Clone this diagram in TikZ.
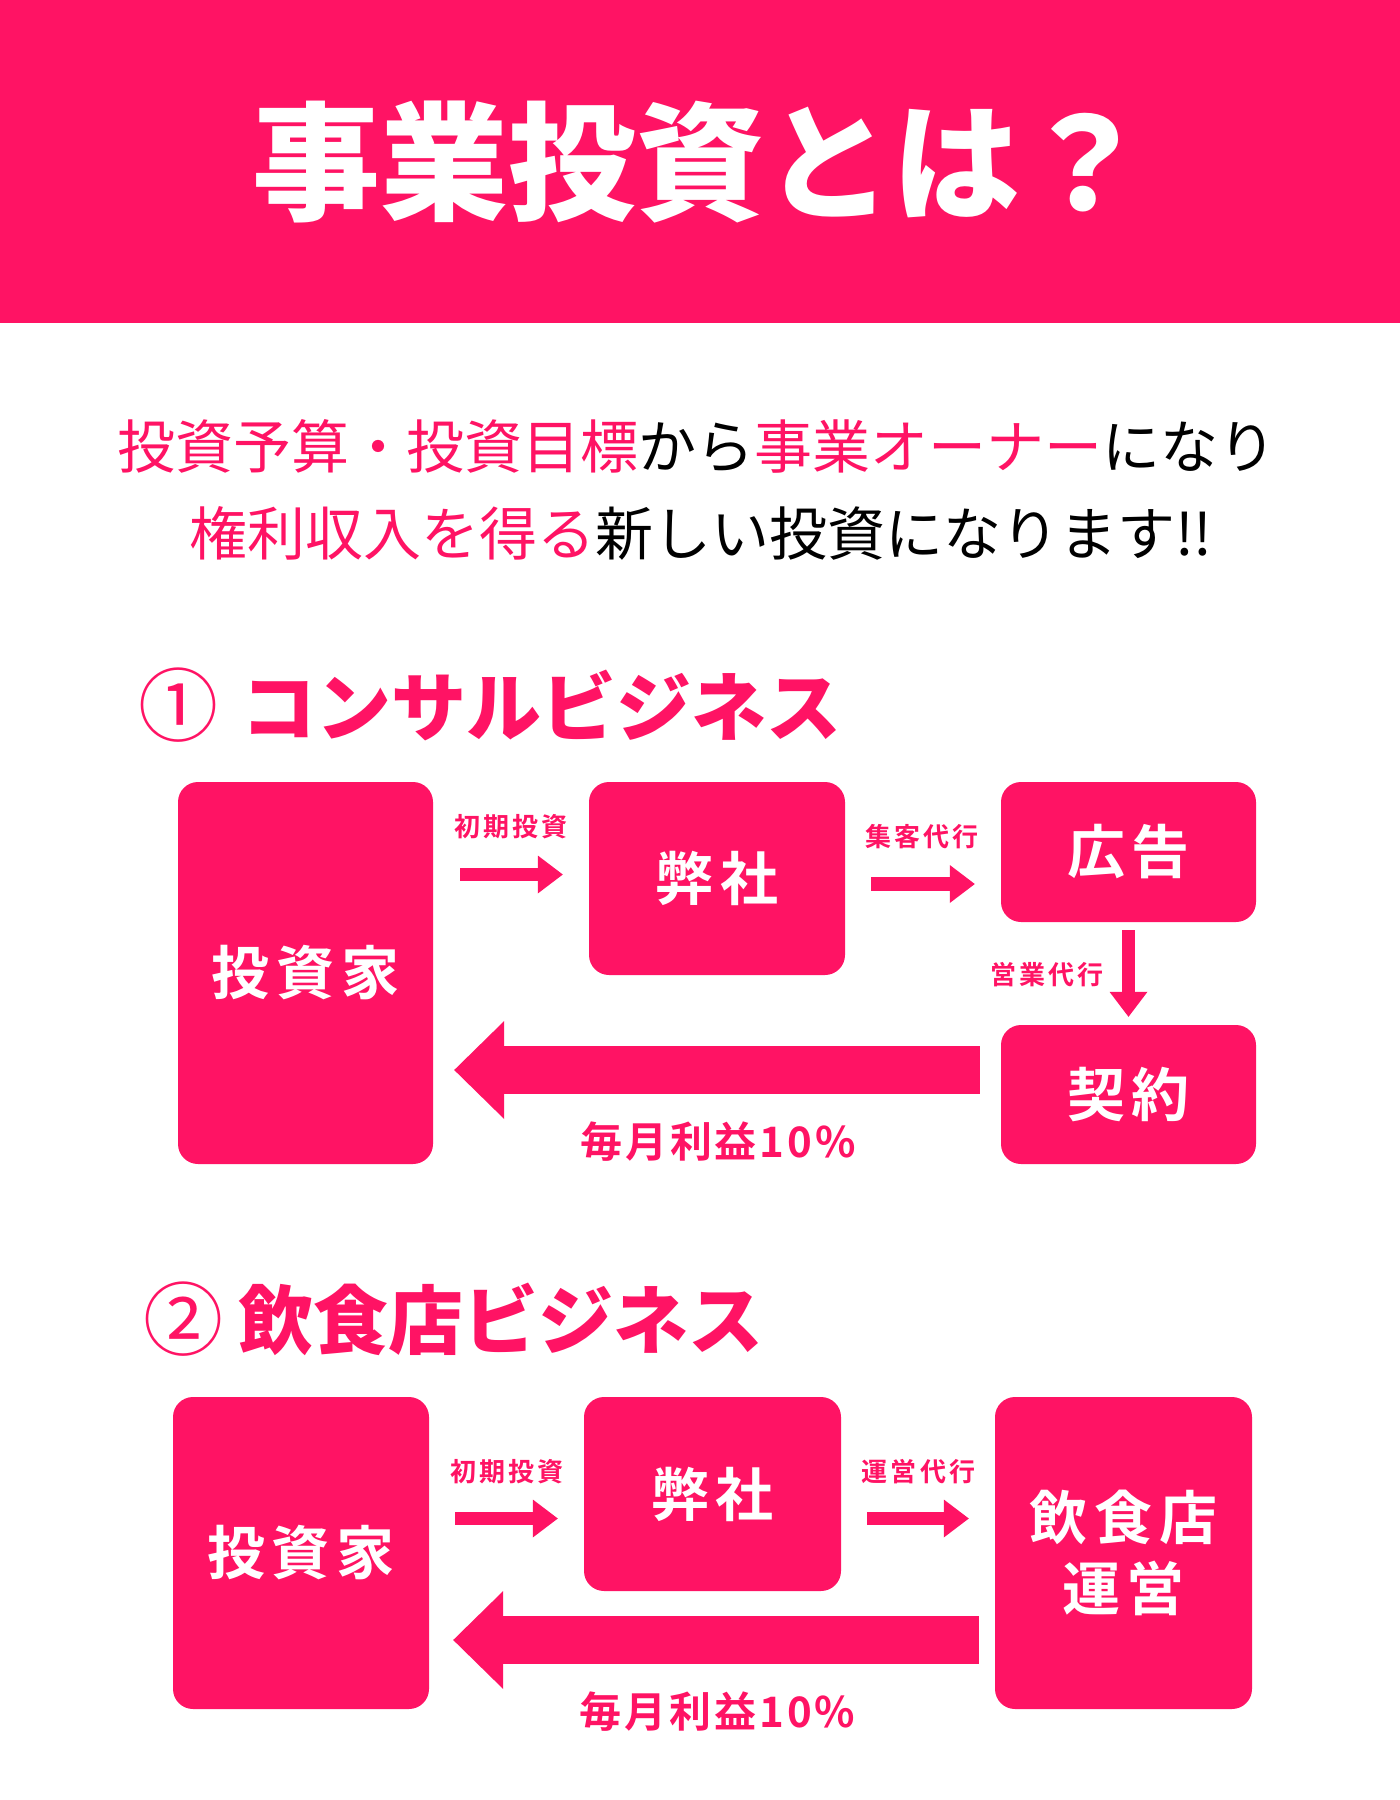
\documentclass[tikz,border=0pt]{standalone}
\usepackage{fontspec}
\usetikzlibrary{arrows.meta,calc}
\setmainfont{Noto Sans CJK JP}
\newfontfamily\jpbold{Noto Sans CJK JP Bold}
\IfFontExistsTF{Noto Sans CJK JP Black}{\newfontfamily\jpblack{Noto Sans CJK JP Black}}{\newfontfamily\jpblack{Noto Sans CJK JP Bold}}
\definecolor{hotpink}{RGB}{255,19,100}

\tikzset{
  box/.style={fill=hotpink, rounded corners=20pt, text=white, inner sep=0pt, align=center,
    font=\jpbold\fontsize{58}{71}\selectfont\addfontfeature{LetterSpace=12}},
  lead/.style={inner sep=0pt, text=black, font=\fontsize{58}{70}\selectfont},
  heading/.style={inner sep=0pt, text=hotpink, font=\jpblack\fontsize{75}{80}\selectfont},
  numtag/.style={inner sep=0pt, text=hotpink, font=\fontsize{80}{80}\selectfont},
  tag/.style={inner sep=0pt, text=hotpink, font=\jpbold\fontsize{26}{30}\selectfont\addfontfeature{LetterSpace=12}},
  gain/.style={inner sep=0pt, text=hotpink, font=\jpbold\fontsize{42}{46}\selectfont\addfontfeature{LetterSpace=7}},
  flow/.style={draw=hotpink, line width=13.5pt, -{Triangle[width=38pt,length=25pt,line width=0pt]}},
  payback/.style={draw=hotpink, line width=48pt, -{Triangle[width=98pt,length=50pt,line width=0pt]}}
}

\begin{document}
\begin{tikzpicture}[x=1pt,y=-1pt]
\useasboundingbox (0,0) rectangle (1400,1800);
\fill[hotpink] (0,0) rectangle (1400,323);
\node[inner sep=0pt, text=white, font=\jpblack\fontsize{128}{130}\selectfont] (title) at (700,162) {事業投資とは？};

\node[lead] (lead1) at (697,446) {{\color{hotpink}投資予算・投資目標}から{\color{hotpink}事業オーナー}になり};
\node[lead] (lead2) at (701,533) {{\color{hotpink}権利収入を得る}新しい投資になります!!};

\node[numtag] (num1) at (178,705) {①};
\node[heading, anchor=west] (head1) at (241,705) {コンサルビジネス};

\node[box, minimum width=255pt, minimum height=382pt] (inv1) at (305.5,973) {投資家};
\node[box, minimum width=256pt, minimum height=193pt] (co1) at (717,878.5) {弊社};
\node[box, minimum width=255pt, minimum height=140pt] (ad1) at (1128.5,852) {広告};
\node[box, minimum width=255pt, minimum height=139pt] (con1) at (1128.5,1094.5) {契約};

\draw[flow] ($(inv1.east |- co1.west)+(27,-4)$) -- ($(co1.west)+(-26,-4)$);
\node[tag] (seed1) at (511,827) {初期投資};
\draw[flow] ($(co1.east)+(26,5.5)$) -- ($(ad1.west |- co1.east)+(-26,5.5)$);
\node[tag] (lure1) at (922,837) {集客代行};
\draw[flow, shorten <=8pt, shorten >=8pt] (ad1.south) -- (con1.north);
\node[tag] (sales1) at (1047,975) {営業代行};
\draw[payback] ($(con1.west)+(-21,-24.5)$) -- ($(inv1.east |- con1.west)+(21,-24.5)$);
\node[gain] (gain1) at (718,1142) {毎月利益10\%};

\node[numtag] (num2) at (183,1319.5) {②};
\node[heading, anchor=west] (head2) at (238,1319.5) {飲食店ビジネス};

\node[box, minimum width=256pt, minimum height=312pt] (inv2) at (301,1553) {投資家};
\node[box, minimum width=257pt, minimum height=194pt] (co2) at (712.5,1494) {弊社};
\node[box, minimum width=257pt, minimum height=312pt] (shop2) at (1123.5,1553) {飲食店\\運営};

\draw[flow] ($(inv2.east |- co2.west)+(26,24.5)$) -- ($(co2.west)+(-26,24.5)$);
\node[tag] (seed2) at (507,1471.5) {初期投資};
\draw[flow] ($(co2.east)+(26,24.5)$) -- ($(shop2.west |- co2.east)+(-26,24.5)$);
\node[tag] (run2) at (918.5,1471.5) {運営代行};
\draw[payback] ($(shop2.west)+(-16,87)$) -- ($(inv2.east)+(24,87)$);
\node[gain] (gain2) at (717.5,1712) {毎月利益10\%};
\end{tikzpicture}
\end{document}
